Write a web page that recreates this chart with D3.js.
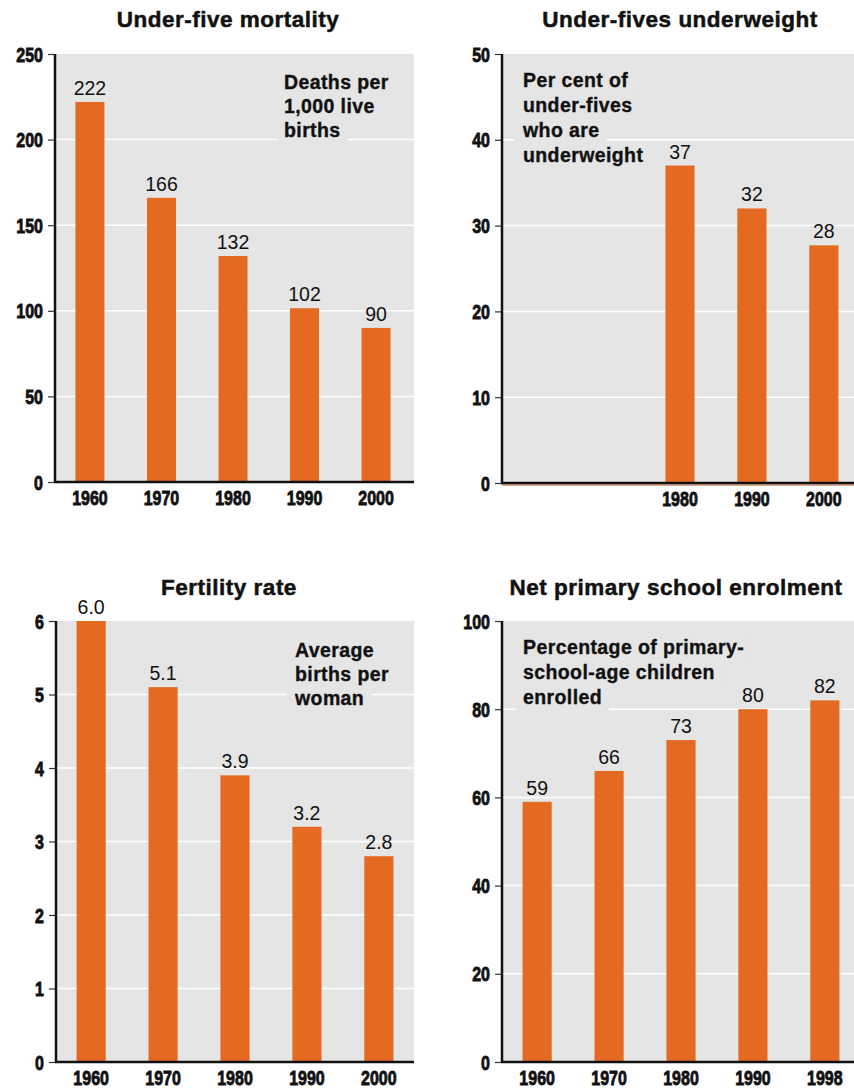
<!DOCTYPE html>
<html>
<head>
<meta charset="utf-8">
<script src="https://cdn.jsdelivr.net/npm/d3@7"></script>
<style>
  html, body { margin: 0; padding: 0; background: #ffffff; }
  svg { display: block; }
  .title { font-family: "Liberation Sans", Arial, sans-serif; font-weight: bold; font-size: 22.5px; letter-spacing: 0.5px; fill: #111; stroke: #111; stroke-width: 0.5px; }
  .tick-lbl { font-family: "Liberation Sans", Arial, sans-serif; font-weight: bold; font-size: 19.5px; fill: #111; stroke: #111; stroke-width: 0.8px; }
  .val { font-family: "Liberation Sans", Arial, sans-serif; font-size: 19.5px; fill: #111; }
  .note { font-family: "Liberation Sans", Arial, sans-serif; font-weight: bold; font-size: 19.5px; letter-spacing: 0.4px; fill: #111; stroke: #111; stroke-width: 0.35px; }
</style>
</head>
<body>
<script>
// ---------- DATA ----------
const mortalityYears = ["1960", "1970", "1980", "1990", "2000"];
const mortalityValues = [222, 166, 132, 101.5, 90];
const mortalityTicks = [0, 50, 100, 150, 200, 250];
const mortalityNote = ["Deaths per", "1,000 live", "births"];

const underweightYears = ["1960", "1970", "1980", "1990", "2000"];
const underweightValues = [null, null, 37, 32, 27.7];
const underweightTicks = [0, 10, 20, 30, 40, 50];
const underweightNote = ["Per cent of", "under-fives", "who are", "underweight"];

const fertilityYears = ["1960", "1970", "1980", "1990", "2000"];
const fertilityValues = [6.0, 5.1, 3.9, 3.2, 2.8];
const fertilityTicks = [0, 1, 2, 3, 4, 5, 6];
const fertilityNote = ["Average", "births per", "woman"];

const enrolmentYears = ["1960", "1970", "1980", "1990", "1998"];
const enrolmentValues = [59, 66, 73, 80, 82];
const enrolmentTicks = [0, 20, 40, 60, 80, 100];
const enrolmentNote = ["Percentage of primary-", "school-age children", "enrolled"];

// ---------- STYLE ----------
const ORANGE = "#E36A20";
const BG = "#E5E5E5";
const NARROW = 0.82;

const svg = d3.select("body").append("svg")
  .attr("width", 854).attr("height", 1089);

function panel(cfg) {
  const g = svg.append("g");
  const x = d3.scaleBand().domain(cfg.cats).range([cfg.x0, cfg.x1]).paddingInner(0.595).paddingOuter(0.3);
  const y = d3.scaleLinear().domain([0, d3.max(cfg.ticks)]).range([cfg.yb, cfg.yt]);

  // plot background
  g.append("rect").attr("x", cfg.ax).attr("y", cfg.yt)
    .attr("width", cfg.bgRight - cfg.ax).attr("height", cfg.yb - cfg.yt).attr("fill", BG);

  // gridlines
  g.selectAll(".grid").data(cfg.ticks.filter(t => t > 0 && t < d3.max(cfg.ticks))).join("line")
    .attr("x1", cfg.ax).attr("x2", cfg.bgRight)
    .attr("y1", d => y(d)).attr("y2", d => y(d))
    .attr("stroke", "#ffffff").attr("stroke-width", 1.5);

  // annotation with per-line background masking gridlines
  const note = g.append("g");
  cfg.note.forEach((line, i) => {
    const t = note.append("text").attr("class", "note")
      .attr("x", cfg.noteX).attr("y", cfg.noteY + i * cfg.noteDy).text(line);
    const bb = t.node().getBBox();
    note.insert("rect", "text").attr("x", bb.x - 7).attr("y", bb.y - 2)
      .attr("width", bb.width + 14).attr("height", bb.height + 4).attr("fill", BG);
  });

  // bars
  const data = cfg.cats.map((c, i) => ({ c, v: cfg.vals[i] })).filter(d => d.v != null);
  g.selectAll(".bar").data(data).join("rect")
    .attr("x", d => x(d.c)).attr("width", x.bandwidth())
    .attr("y", d => y(d.v)).attr("height", d => y(0) - y(d.v))
    .attr("fill", ORANGE);

  // value labels
  g.selectAll(".val").data(data).join("text").attr("class", "val")
    .attr("x", d => x(d.c) + x.bandwidth() / 2).attr("y", d => y(d.v) - 7)
    .attr("text-anchor", "middle").text(d => d3.format(cfg.fmt)(d.v));

  // y axis
  const yAxis = d3.axisLeft(y).tickValues(cfg.ticks).tickSize(7).tickPadding(5).tickFormat(d3.format("d"));
  const ya = g.append("g").attr("transform", `translate(${cfg.ax},0)`).call(yAxis);
  ya.select(".domain").remove();
  ya.selectAll(".tick line").attr("stroke", "#333").attr("stroke-width", 1.2);
  ya.selectAll(".tick text").attr("class", "tick-lbl").attr("fill", "#111").attr("dy", "0.36em")
    .attr("x", -12 / NARROW).attr("transform", `scale(${NARROW},1)`);
  g.append("line").attr("x1", cfg.ax).attr("x2", cfg.ax).attr("y1", cfg.yt).attr("y2", cfg.yb + 1)
    .attr("stroke", "#111").attr("stroke-width", 2.5);

  // x axis
  if (cfg.orangeBase) {
    g.append("line").attr("x1", cfg.ax).attr("x2", cfg.bgRight).attr("y1", cfg.yb + 2).attr("y2", cfg.yb + 2)
      .attr("stroke", "#B8561A").attr("stroke-width", 1.2);
  }
  g.append("line").attr("x1", cfg.ax - 1).attr("x2", cfg.bgRight).attr("y1", cfg.yb).attr("y2", cfg.yb)
    .attr("stroke", "#111").attr("stroke-width", 2.5);
  const xa = g.append("g").attr("transform", `translate(0,${cfg.yb})`)
    .call(d3.axisBottom(x).tickSize(0).tickPadding(9).tickFormat((d, i) => cfg.vals[i] == null ? "" : d));
  xa.select(".domain").remove();
  xa.selectAll(".tick text").attr("class", "tick-lbl").attr("fill", "#111").attr("dy", "0.71em")
    .attr("transform", `scale(${NARROW},1)`);

  // title
  g.append("text").attr("class", "title").attr("x", cfg.titleX).attr("y", cfg.titleY)
    .attr("text-anchor", "middle").text(cfg.title);
}

panel({ title: "Under-five mortality", cats: mortalityYears, vals: mortalityValues, ticks: mortalityTicks,
  note: mortalityNote, fmt: ".0f", x0: 54, x1: 412, ax: 55, bgRight: 414, yt: 54, yb: 482,
  titleX: 228, titleY: 27, noteX: 284, noteY: 89, noteDy: 24 });

panel({ title: "Under-fives underweight", cats: underweightYears, vals: underweightValues, ticks: underweightTicks,
  note: underweightNote, fmt: ".0f", x0: 500, x1: 860, ax: 502, bgRight: 854, yt: 54, yb: 483,
  titleX: 680, titleY: 27, noteX: 523, noteY: 87, noteDy: 25, orangeBase: true });

panel({ title: "Fertility rate", cats: fertilityYears, vals: fertilityValues, ticks: fertilityTicks,
  note: fertilityNote, fmt: ".1f", x0: 55, x1: 415, ax: 56, bgRight: 414, yt: 621, yb: 1062,
  titleX: 229, titleY: 595, noteX: 295, noteY: 657, noteDy: 24 });

panel({ title: "Net primary school enrolment", cats: enrolmentYears, vals: enrolmentValues, ticks: enrolmentTicks,
  note: enrolmentNote, fmt: ".0f", x0: 501, x1: 861, ax: 502, bgRight: 854, yt: 621, yb: 1062,
  titleX: 676, titleY: 595, noteX: 523, noteY: 654, noteDy: 25 });
</script>
</body>
</html>
